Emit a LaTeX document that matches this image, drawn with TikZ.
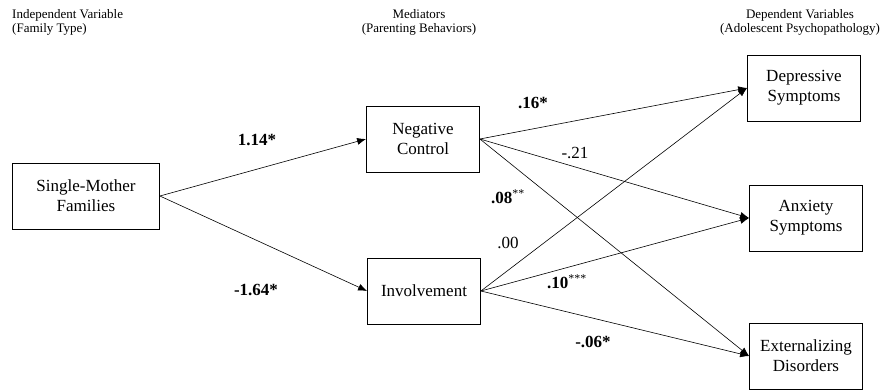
\documentclass[tikz,border=0pt]{standalone}
\usepackage{fontspec}
\setmainfont{Liberation Serif}
\usetikzlibrary{arrows.meta}
\begin{document}
\begin{tikzpicture}[x=1pt, y=-1pt]
    \tikzset{>={Latex[length=9pt,width=7pt]}}
    \tikzset{varbox/.style={draw, line width=0.8pt, minimum width=113pt, minimum height=66pt, align=center, inner sep=0pt, font=\fontsize{17}{20}\selectfont}}
    \tikzset{path/.style={->, line width=0.6pt}}
    \tikzset{coef/.style={inner sep=0pt, font=\fontsize{17}{20}\selectfont}}
    \tikzset{header/.style={inner sep=0pt, font=\fontsize{13}{14}\selectfont}}
    \useasboundingbox (0,0) rectangle (880,391);
    % column headers
    \node[header, anchor=north west, align=left] (hIV) at (12,9) {Independent Variable\\(Family Type)};
    \node[header, anchor=north, align=center] (hMed) at (419,9) {Mediators\\(Parenting Behaviors)};
    \node[header, anchor=north, align=center] (hDV) at (800,9) {Dependent Variables\\(Adolescent Psychopathology)};
    % variables
    \node[varbox, minimum width=147pt] (smf) at (86,196) {Single-Mother\\Families};
    \node[varbox] (negctl) at (423,139) {Negative\\Control};
    \node[varbox] (invol) at (424,291) {Involvement};
    \node[varbox] (depr) at (804,88) {Depressive\\Symptoms};
    \node[varbox] (anx) at (806,218) {Anxiety\\Symptoms};
    \node[varbox] (ext) at (806,356) {Externalizing\\Disorders};
    % paths
    \draw[path] (smf.east) -- (negctl.west);
    \draw[path] (smf.east) -- (invol.west);
    \draw[path] (negctl.east) -- (depr.west);
    \draw[path] (negctl.east) -- (anx.west);
    \draw[path] (negctl.east) -- (ext.west);
    \draw[path] (invol.east) -- (depr.west);
    \draw[path] (invol.east) -- (anx.west);
    \draw[path] (invol.east) -- (ext.west);
    % coefficients
    \node[coef] (cA) at (257,140) {\textbf{1.14*}};
    \node[coef] (cB) at (256,290) {\textbf{-1.64*}};
    \node[coef] (cC) at (533,103) {\textbf{.16*}};
    \node[coef] (cD) at (575,153) {-.21};
    \node[coef] (cE) at (508,197) {\textbf{.08}\textsuperscript{**}};
    \node[coef] (cF) at (508,243) {.00};
    \node[coef] (cG) at (567,282) {\textbf{.10}\textsuperscript{***}};
    \node[coef] (cH) at (593,342) {\textbf{-.06*}};
\end{tikzpicture}
\end{document}
